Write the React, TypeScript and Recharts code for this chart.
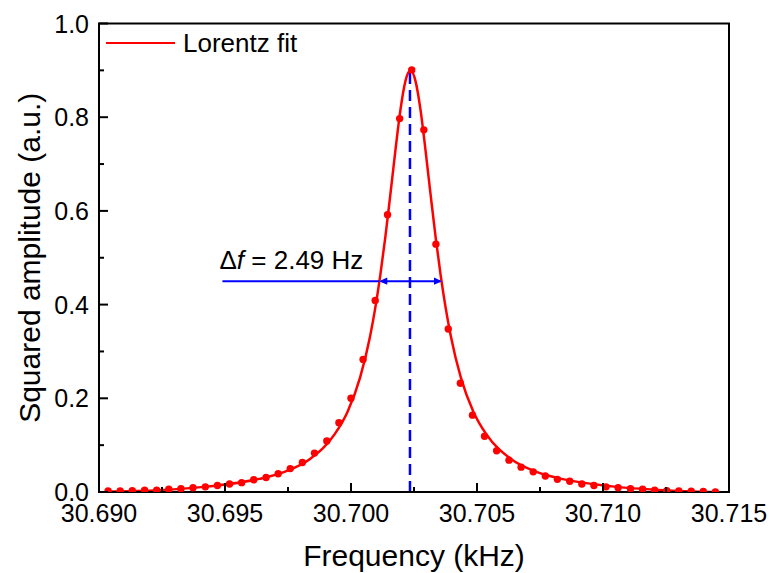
import React from 'react';
import {
  ComposedChart,
  Line,
  Scatter,
  XAxis,
  YAxis,
  ReferenceLine,
  ReferenceArea,
  Legend,
} from 'recharts';

const FONT = '"Liberation Sans", Arial, Helvetica, sans-serif';

// Measured data (frequency in kHz, squared amplitude in a.u.)
const freqKHz = [
  30.69036, 30.69084, 30.69132, 30.69181, 30.69229, 30.69277, 30.69325, 30.69373, 30.69422, 30.6947,
  30.69518, 30.69566, 30.69614, 30.69663, 30.69711, 30.69759, 30.69807, 30.69855, 30.69904, 30.69952,
  30.7, 30.70048, 30.70096, 30.70145, 30.70193, 30.70241, 30.70289, 30.70337, 30.70386, 30.70434,
  30.70482, 30.7053, 30.70578, 30.70627, 30.70675, 30.70723, 30.70771, 30.70819, 30.70868, 30.70916,
  30.70964, 30.71012, 30.7106, 30.71109, 30.71157, 30.71205, 30.71253, 30.71301, 30.7135, 30.71398,
  30.71446,
];
const sqAmp = [
  0.002, 0.002, 0.003, 0.004, 0.004, 0.006, 0.007, 0.009, 0.011, 0.014,
  0.017, 0.02, 0.026, 0.031, 0.039, 0.05, 0.063, 0.083, 0.109, 0.148,
  0.2, 0.283, 0.409, 0.592, 0.797, 0.901, 0.773, 0.529, 0.348, 0.232,
  0.164, 0.119, 0.088, 0.068, 0.053, 0.043, 0.034, 0.027, 0.023, 0.017,
  0.014, 0.011, 0.009, 0.007, 0.006, 0.004, 0.003, 0.002, 0.0015, 0.001,
  0.0,
];

// Lorentz fit curve
const fitFreqKHz = [
  30.69036, 30.69236, 30.69436, 30.69636, 30.69736, 30.69836, 30.69936, 30.69986, 30.70036, 30.70076,
  30.70096, 30.70116, 30.70136, 30.70156, 30.70176, 30.70196, 30.70216, 30.70236, 30.70256, 30.70276,
  30.70296, 30.70316, 30.70336, 30.70356, 30.70376, 30.70396, 30.70436, 30.70486, 30.70536, 30.70636,
  30.70736, 30.70836, 30.71036, 30.71236, 30.71446,
];
const fitAmp = [
  0.001, 0.004, 0.012, 0.028, 0.043, 0.07, 0.124, 0.171, 0.244, 0.333,
  0.392, 0.462, 0.543, 0.634, 0.728, 0.815, 0.877, 0.9, 0.877, 0.815,
  0.728, 0.634, 0.543, 0.462, 0.392, 0.333, 0.244, 0.171, 0.124, 0.07,
  0.043, 0.028, 0.012, 0.004, 0.0,
];

const xTicks = [30.69, 30.6925, 30.695, 30.6975, 30.7, 30.7025, 30.705, 30.7075, 30.71, 30.7125, 30.715];
const yTicks = [0, 0.1, 0.2, 0.3, 0.4, 0.5, 0.6, 0.7, 0.8, 0.9, 1.0];

const peakFreq = 30.70234;
const peakAmp = 0.9;
const halfLevel = 0.45;
const fwhmLow = 30.70112;
const fwhmHigh = 30.70361;
const leaderStart = 30.6949;

const xLabel = 'Frequency (kHz)';
const yLabel = 'Squared amplitude (a.u.)';
const legendLabel = 'Lorentz fit';
const fwhmDelta = 'Δ';
const fwhmVar = 'f';
const fwhmRest = ' = 2.49 Hz';

const RED = '#ff0000';
const BLUE = '#0000ff';

const points = freqKHz.map((f, i) => ({ x: f, y: sqAmp[i] }));
const fitPoints = fitFreqKHz.map((f, i) => ({ x: f, y: fitAmp[i] }));

const XTick = (props: any) => {
  const { x, y, payload } = props;
  const v = payload.value as number;
  const major = Math.abs(v * 200 - Math.round(v * 200)) < 1e-6;
  return (
    <g>
      <line x1={x} x2={x} y1={y} y2={y - (major ? 9 : 5)} stroke="#000" strokeWidth={2} />
      {major && (
        <text x={x} y={y + 30} textAnchor="middle" fontSize={25} fontFamily={FONT} fill="#000">
          {v.toFixed(3)}
        </text>
      )}
    </g>
  );
};

const YTick = (props: any) => {
  const { x, y, payload } = props;
  const v = payload.value as number;
  const major = Math.round(v * 10) % 2 === 0;
  return (
    <g>
      <line x1={x} x2={x + (major ? 9 : 5)} y1={y} y2={y} stroke="#000" strokeWidth={2} />
      {major && (
        <text x={x - 10} y={y} dy="0.36em" textAnchor="end" fontSize={25} fontFamily={FONT} fill="#000">
          {v.toFixed(1)}
        </text>
      )}
    </g>
  );
};

const renderXLabel = (props: any) => {
  const vb = props.viewBox || { x: 99, y: 492, width: 630, height: 81 };
  return (
    <text x={vb.x + vb.width / 2} y={vb.y + 74} textAnchor="middle" fontSize={30} fontFamily={FONT} fill="#000">
      {xLabel}
    </text>
  );
};

const renderYLabel = (props: any) => {
  const vb = props.viewBox || { x: 0, y: 23.5, width: 99, height: 468.5 };
  const cx = vb.x + 40;
  const cy = vb.y + vb.height / 2;
  return (
    <text
      x={cx}
      y={cy}
      transform={`rotate(-90, ${cx}, ${cy})`}
      textAnchor="middle"
      fontSize={30}
      fontFamily={FONT}
      fill="#000"
    >
      {yLabel}
    </text>
  );
};

const renderLegend = () => (
  <svg width={260} height={32} style={{ display: 'block', overflow: 'visible' }}>
    <line x1={0} x2={69} y1={15} y2={15} stroke={RED} strokeWidth={2} />
    <text x={77} y={15} dy="0.36em" fontSize={26} fontFamily={FONT} fill="#000">
      {legendLabel}
    </text>
  </svg>
);

const LeaderShape = (props: any) => {
  const { x1, y1, x2, y2 } = props;
  return (
    <g>
      <line x1={x1} y1={y1} x2={x2} y2={y2} stroke={BLUE} strokeWidth={2} />
      <text x={x1 - 3} y={y1 - 12} fontSize={26} fontFamily={FONT} fill="#000">
        <tspan>{fwhmDelta}</tspan>
        <tspan fontStyle="italic">{fwhmVar}</tspan>
        <tspan>{fwhmRest}</tspan>
      </text>
    </g>
  );
};

const ArrowShape = (props: any) => {
  const { x1, y1, x2, y2 } = props;
  const a = 8;
  const h = 3.6;
  return (
    <g>
      <line x1={x1 + 2} y1={y1} x2={x2 - 2} y2={y2} stroke={BLUE} strokeWidth={2} />
      <polygon points={`${x1},${y1} ${x1 + a},${y1 - h} ${x1 + a},${y1 + h}`} fill={BLUE} />
      <polygon points={`${x2},${y2} ${x2 - a},${y2 - h} ${x2 - a},${y2 + h}`} fill={BLUE} />
    </g>
  );
};

const Dot = (props: any) => <circle cx={props.cx} cy={props.cy} r={3.7} fill={RED} />;

export default function App() {
  return (
    <div style={{ position: 'fixed', left: 0, top: 0, width: 770, height: 573, background: '#fff' }}>
      <ComposedChart
        width={770}
        height={573}
        margin={{ top: 23.5, right: 41, left: 0, bottom: 0 }}
      >
        <XAxis
          type="number"
          dataKey="x"
          domain={[30.69, 30.715]}
          ticks={xTicks}
          interval={0}
          allowDataOverflow
          height={81}
          tickSize={0}
          tickMargin={0}
          tickLine={false}
          axisLine={{ stroke: '#000', strokeWidth: 2 }}
          tick={<XTick />}
          label={renderXLabel}
        />
        <YAxis
          type="number"
          domain={[0, 1]}
          ticks={yTicks}
          interval={0}
          allowDataOverflow
          width={99}
          tickSize={0}
          tickMargin={0}
          tickLine={false}
          axisLine={{ stroke: '#000', strokeWidth: 2 }}
          tick={<YTick />}
          label={renderYLabel}
        />
        <ReferenceArea
          x1={30.69}
          x2={30.715}
          y1={0}
          y2={1}
          fill="#fff"
          fillOpacity={0}
          stroke="#000"
          strokeWidth={2}
        />
        <Legend
          layout="vertical"
          align="center"
          verticalAlign="middle"
          wrapperStyle={{ left: 106, top: 28, width: 260, height: 32 }}
          content={renderLegend}
        />
        <Line
          data={fitPoints}
          dataKey="y"
          type="monotone"
          stroke={RED}
          strokeWidth={2.5}
          dot={false}
          activeDot={false}
          isAnimationActive={false}
          name={legendLabel}
        />
        <Scatter data={points} dataKey="y" fill={RED} shape={Dot} isAnimationActive={false} />
        <ReferenceLine
          segment={[
            { x: peakFreq, y: 0 },
            { x: peakFreq, y: peakAmp },
          ]}
          stroke={BLUE}
          strokeWidth={2.5}
          strokeDasharray="11 6"
        />
        <ReferenceLine
          segment={[
            { x: leaderStart, y: halfLevel },
            { x: fwhmLow, y: halfLevel },
          ]}
          shape={LeaderShape}
        />
        <ReferenceLine
          segment={[
            { x: fwhmLow, y: halfLevel },
            { x: fwhmHigh, y: halfLevel },
          ]}
          shape={ArrowShape}
        />
      </ComposedChart>
    </div>
  );
}
